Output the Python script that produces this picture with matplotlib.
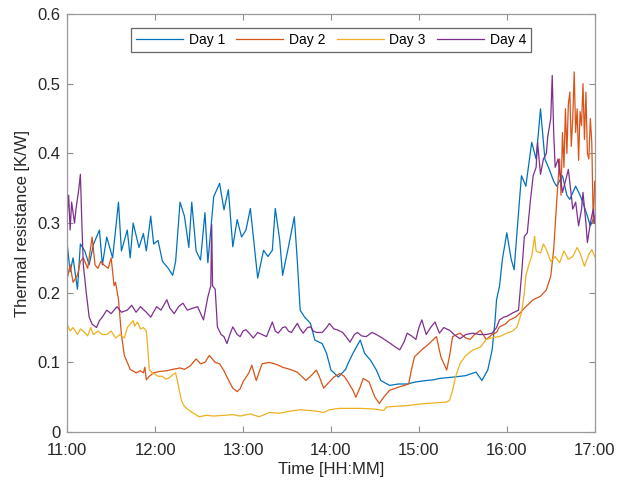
import matplotlib
matplotlib.use('Agg')
import matplotlib.pyplot as plt

plt.rcParams['font.family'] = ['Liberation Sans', 'DejaVu Sans']

# minutes after 11:00 and thermal resistance [K/W]
day1_t = [0, 2, 4, 7, 9, 12, 15, 18, 22, 24, 27, 31, 35, 37, 41, 43, 45, 49, 52, 54,
          57, 59, 62, 65, 69, 72, 74, 77, 80, 83, 85, 88, 91, 94, 96, 100, 104, 107, 110, 113,
          116, 119, 122, 125, 128, 130, 134, 137, 140, 142, 145, 147, 151, 155, 157, 159, 162, 166, 169, 174,
          177, 180, 185, 190, 192, 195, 200, 203, 207, 211, 214, 220, 226, 232, 238, 245, 250, 254, 259, 264,
          268, 272, 276, 279, 283, 287, 290, 292, 293, 295, 297, 300, 303, 305, 308, 310, 313, 317, 320, 323,
          326, 329, 332, 334, 338, 341, 343, 347, 350, 352, 355, 357, 360]
day1_v = [0.27, 0.23, 0.25, 0.205, 0.27, 0.26, 0.24, 0.27, 0.29, 0.24, 0.28, 0.25, 0.33, 0.26, 0.29, 0.25, 0.30, 0.265, 0.285, 0.26,
          0.31, 0.27, 0.275, 0.245, 0.235, 0.225, 0.245, 0.33, 0.31, 0.265, 0.33, 0.26, 0.247, 0.315, 0.243, 0.338, 0.357, 0.319, 0.348, 0.266,
          0.305, 0.28, 0.29, 0.321, 0.261, 0.221, 0.261, 0.252, 0.261, 0.321, 0.276, 0.225, 0.266, 0.309, 0.247, 0.175, 0.165, 0.156, 0.132, 0.127,
          0.113, 0.089, 0.079, 0.09, 0.10, 0.113, 0.132, 0.113, 0.103, 0.089, 0.074, 0.067, 0.069, 0.069, 0.072, 0.074, 0.075, 0.077, 0.078, 0.079,
          0.08, 0.081, 0.084, 0.086, 0.074, 0.089, 0.118, 0.16, 0.19, 0.209, 0.248, 0.286, 0.248, 0.233, 0.315, 0.368, 0.353, 0.416, 0.392, 0.464,
          0.392, 0.377, 0.36, 0.353, 0.368, 0.34, 0.334, 0.353, 0.34, 0.329, 0.31, 0.296, 0.31]

day2_t = [0, 2, 4, 7, 9, 11, 14, 17, 19, 21, 23, 25, 28, 30, 32, 33, 35, 37, 39, 43,
          47, 50, 52, 53, 54, 56, 59, 63, 68, 72, 77, 80, 84, 88, 91, 94, 97, 101, 104, 107,
          109, 113, 116, 118, 120, 124, 126, 129, 133, 138, 143, 147, 152, 157, 160, 163, 167, 170, 172, 175,
          178, 182, 186, 189, 191, 195, 197, 200, 202, 206, 210, 213, 216, 220, 227, 233, 235, 237, 242, 247,
          252, 255, 259, 261, 263, 268, 272, 275, 278, 282, 286, 290, 293, 295, 299, 302, 306, 309, 313, 318,
          323, 327, 330, 332, 334, 336, 337, 338, 339, 340, 341, 342, 343, 344, 345, 346, 347, 348, 349, 350,
          351, 352, 353, 354, 355, 356, 357, 358, 359, 360]
day2_v = [0.22, 0.24, 0.215, 0.225, 0.245, 0.25, 0.235, 0.28, 0.24, 0.235, 0.245, 0.24, 0.235, 0.25, 0.21, 0.215, 0.19, 0.14, 0.11, 0.09,
          0.085, 0.088, 0.085, 0.093, 0.075, 0.08, 0.085, 0.087, 0.088, 0.09, 0.092, 0.09, 0.095, 0.105, 0.098, 0.10, 0.11, 0.10, 0.098, 0.088,
          0.079, 0.063, 0.058, 0.062, 0.072, 0.085, 0.096, 0.074, 0.098, 0.10, 0.097, 0.093, 0.09, 0.086, 0.08, 0.074, 0.082, 0.089, 0.08, 0.063,
          0.07, 0.079, 0.084, 0.08, 0.074, 0.06, 0.05, 0.065, 0.077, 0.072, 0.05, 0.041, 0.05, 0.06, 0.065, 0.069, 0.09, 0.108, 0.118, 0.127,
          0.137, 0.108, 0.089, 0.11, 0.137, 0.142, 0.135, 0.133, 0.14, 0.146, 0.133, 0.14, 0.143, 0.151, 0.155, 0.161, 0.165, 0.171, 0.18, 0.19,
          0.195, 0.204, 0.224, 0.262, 0.329, 0.392, 0.34, 0.43, 0.38, 0.464, 0.40, 0.47, 0.488, 0.41, 0.45, 0.517, 0.43, 0.464, 0.39, 0.46,
          0.44, 0.50, 0.42, 0.488, 0.40, 0.392, 0.45, 0.416, 0.30, 0.36]

day3_t = [0, 2, 4, 7, 9, 11, 14, 16, 18, 21, 24, 27, 30, 33, 36, 39, 41, 43, 45, 46,
          48, 50, 52, 54, 55, 56, 58, 60, 62, 65, 67, 69, 72, 74, 76, 78, 80, 82, 84, 87,
          90, 95, 100, 107, 113, 118, 125, 131, 138, 145, 152, 159, 165, 170, 175, 179, 186, 193, 200, 210,
          216, 218, 225, 232, 240, 245, 252, 259, 261, 263, 265, 268, 272, 277, 282, 286, 291, 295, 300, 304,
          307, 310, 312, 313, 315, 317, 319, 320, 323, 325, 327, 330, 333, 336, 339, 342, 345, 348, 350, 353,
          356, 358, 360]
day3_v = [0.155, 0.145, 0.15, 0.14, 0.148, 0.145, 0.138, 0.15, 0.14, 0.145, 0.14, 0.14, 0.145, 0.135, 0.14, 0.135, 0.15, 0.155, 0.16, 0.152,
          0.158, 0.148, 0.15, 0.145, 0.12, 0.09, 0.085, 0.083, 0.08, 0.08, 0.076, 0.077, 0.082, 0.085, 0.065, 0.045, 0.037, 0.033, 0.03, 0.026,
          0.022, 0.024, 0.023, 0.024, 0.025, 0.023, 0.026, 0.022, 0.028, 0.027, 0.03, 0.032, 0.031, 0.03, 0.028, 0.032, 0.034, 0.034, 0.034, 0.033,
          0.031, 0.036, 0.037, 0.038, 0.04, 0.041, 0.042, 0.043, 0.046, 0.06, 0.079, 0.098, 0.11, 0.118, 0.122, 0.133, 0.136, 0.137, 0.142, 0.145,
          0.151, 0.171, 0.20, 0.224, 0.24, 0.252, 0.281, 0.26, 0.257, 0.27, 0.262, 0.245, 0.252, 0.243, 0.26, 0.248, 0.252, 0.265, 0.257, 0.238,
          0.255, 0.262, 0.252]

day4_t = [0, 1, 2, 3, 5, 6, 8, 9, 10, 11, 13, 15, 17, 20, 22, 24, 27, 30, 34, 37,
          41, 44, 47, 50, 54, 57, 61, 64, 68, 70, 73, 76, 79, 82, 86, 89, 93, 96, 98, 98.6,
          99.2, 101, 102.5, 105, 107, 109, 111, 113, 116, 118, 120, 122, 125, 127, 130, 133, 136, 140, 142, 144,
          147, 149, 151, 153, 157, 159, 161, 164, 166, 168, 170, 174, 177, 179, 182, 184, 188, 191, 193, 196,
          198, 201, 204, 208, 211, 215, 220, 224, 227, 230, 232, 235, 238, 240, 242, 245, 248, 251, 254, 257,
          261, 264, 268, 272, 277, 281, 286, 290, 293, 295, 298, 300, 304, 308, 310, 312, 314, 316, 318, 320,
          321, 323, 325, 327, 328, 330, 331, 332, 333, 335, 337, 338, 340, 342, 344, 345, 347, 349, 351, 352,
          354, 355, 357, 359, 360]
day4_v = [0.31, 0.34, 0.29, 0.33, 0.30, 0.32, 0.35, 0.37, 0.30, 0.24, 0.20, 0.165, 0.155, 0.15, 0.16, 0.165, 0.175, 0.17, 0.18, 0.172,
          0.175, 0.182, 0.172, 0.18, 0.172, 0.165, 0.18, 0.175, 0.19, 0.178, 0.17, 0.18, 0.185, 0.175, 0.178, 0.18, 0.161, 0.194, 0.21, 0.298,
          0.21, 0.205, 0.151, 0.14, 0.137, 0.127, 0.14, 0.151, 0.14, 0.137, 0.145, 0.147, 0.14, 0.135, 0.143, 0.14, 0.137, 0.158, 0.145, 0.142,
          0.15, 0.151, 0.145, 0.143, 0.156, 0.148, 0.142, 0.15, 0.151, 0.145, 0.143, 0.143, 0.15, 0.156, 0.148, 0.147, 0.143, 0.135, 0.129, 0.14,
          0.143, 0.138, 0.137, 0.143, 0.14, 0.135, 0.128, 0.122, 0.118, 0.13, 0.142, 0.138, 0.133, 0.15, 0.161, 0.14, 0.15, 0.158, 0.142, 0.15,
          0.146, 0.14, 0.134, 0.14, 0.142, 0.14, 0.14, 0.142, 0.15, 0.161, 0.165, 0.166, 0.171, 0.175, 0.224, 0.281, 0.286, 0.33, 0.368, 0.38,
          0.416, 0.37, 0.392, 0.40, 0.425, 0.45, 0.512, 0.43, 0.38, 0.392, 0.36, 0.344, 0.36, 0.377, 0.34, 0.32, 0.33, 0.296, 0.32, 0.344,
          0.30, 0.272, 0.30, 0.32, 0.30]

tick_pos = [0, 60, 120, 180, 240, 300, 360]
tick_labels = ['11:00', '12:00', '13:00', '14:00', '15:00', '16:00', '17:00']

fig = plt.figure(figsize=(6.28, 4.86), dpi=100)
ax = fig.add_axes([0.107, 0.111, 0.84, 0.86])

ax.plot(day1_t, day1_v, color='#0072BD', lw=0.9, label='Day 1')
ax.plot(day2_t, day2_v, color='#D95319', lw=0.9, label='Day 2')
ax.plot(day3_t, day3_v, color='#EDB120', lw=0.9, label='Day 3')
ax.plot(day4_t, day4_v, color='#7E2F8E', lw=0.9, label='Day 4')

ax.set_xlim(0, 360)
ax.set_ylim(0, 0.6)
ax.set_xticks(tick_pos)
ax.set_xticklabels(tick_labels)
ax.set_yticks([0, 0.1, 0.2, 0.3, 0.4, 0.5, 0.6])
ax.set_yticklabels(['0', '0.1', '0.2', '0.3', '0.4', '0.5', '0.6'])
ax.tick_params(direction='in', top=True, right=True, labelsize=12, labelcolor='#262626',
               color='#8c8c8c', length=4, width=0.8)
ax.tick_params(axis='x', pad=8)
ax.tick_params(axis='y', pad=5)
for s in ax.spines.values():
    s.set_color('#999999')
    s.set_linewidth(0.9)

ax.set_xlabel('Time [HH:MM]', fontsize=12, color='#262626', labelpad=3)
ax.set_ylabel('Thermal resistance [K/W]', fontsize=12, color='#262626', labelpad=5)

leg = ax.legend(loc='upper center', bbox_to_anchor=(0.5, 0.966), ncol=4, fontsize=10,
                frameon=True, fancybox=False, framealpha=1, borderaxespad=0,
                handlelength=3.4, columnspacing=0.8, handletextpad=0.4,
                borderpad=0.35)
leg.get_frame().set_edgecolor('#666666')
leg.get_frame().set_linewidth(0.9)

plt.savefig('out.png', dpi=100)
